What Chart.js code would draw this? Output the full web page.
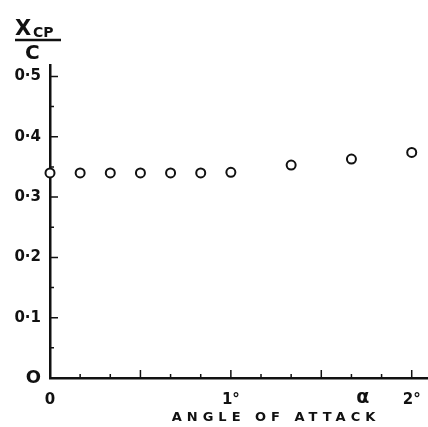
<!DOCTYPE html>
<html>
<head>
<meta charset="utf-8">
<script src="https://cdn.jsdelivr.net/npm/chart.js@4.4.1/dist/chart.umd.min.js"></script>
<style>
  html, body { margin: 0; padding: 0; background: #fff; }
  #wrap { width: 428px; height: 427px; }
</style>
</head>
<body>
<div id="wrap"><canvas id="cpChart" width="428" height="427"></canvas></div>
<script>
// Centre of pressure position against angle of attack (degrees)
const angles = [0, 1/6, 2/6, 3/6, 4/6, 5/6, 1, 4/3, 5/3, 2];
const xcpOverC = [0.340, 0.340, 0.340, 0.340, 0.340, 0.340, 0.341, 0.353, 0.363, 0.374];

// Labelled ticks
const xLabelValues = [0, 1, 2];
const xLabelTexts = ['0', '1°', '2°'];
const yLabelValues = [0, 0.1, 0.2, 0.3, 0.4, 0.5];
const yLabelTexts = ['O', '0·1', '0·2', '0·3', '0·4', '0·5'];

const INK = '#111';
const FONT = 'DejaVu Sans';

function labelFor(values, texts, v) {
    const i = values.findIndex(t => Math.abs(t - v) < 1e-6);
    return i >= 0 ? texts[i] : '';
}

// inward tick marks, axis symbol and titles
const lettering = {
    id: 'lettering',
    afterDraw(chart) {
        const ctx = chart.ctx;
        const x = chart.scales.x, y = chart.scales.y;
        const left = chart.chartArea.left, bottom = chart.chartArea.bottom;
        ctx.save();
        ctx.strokeStyle = INK;
        ctx.lineWidth = 1.5;
        ctx.beginPath();
        y.ticks.forEach(t => {
            const py = y.getPixelForValue(t.value);
            const major = Math.abs(t.value * 10 - Math.round(t.value * 10)) < 1e-6;
            if (t.value === 0) return;
            ctx.moveTo(left, py);
            ctx.lineTo(left + (major ? 8 : 4), py);
        });
        x.ticks.forEach(t => {
            const px = x.getPixelForValue(t.value);
            const major = Math.abs(t.value * 2 - Math.round(t.value * 2)) < 1e-6;
            if (t.value === 0) return;
            ctx.moveTo(px, bottom);
            ctx.lineTo(px, bottom - (major ? 8 : 4));
        });
        ctx.stroke();

        ctx.fillStyle = INK;
        // alpha on the angle axis
        ctx.font = 'bold 19px "' + FONT + '"';
        ctx.textAlign = 'center';
        ctx.textBaseline = 'middle';
        ctx.fillText('α', x.getPixelForValue(1.73), 398);

        // axis title
        ctx.font = 'bold 13px "' + FONT + '"';
        ctx.letterSpacing = '5px';
        ctx.fillText('ANGLE OF ATTACK', 276, 418);
        ctx.letterSpacing = '0px';

        // Xcp / C fraction
        ctx.textAlign = 'left';
        ctx.textBaseline = 'alphabetic';
        ctx.font = 'bold 21px "' + FONT + '"';
        ctx.fillText('X', 15, 35);
        ctx.font = 'bold 14px "' + FONT + '"';
        ctx.fillText('CP', 33, 37);
        ctx.lineWidth = 2.5;
        ctx.beginPath();
        ctx.moveTo(15, 40);
        ctx.lineTo(61, 40);
        ctx.stroke();
        ctx.font = 'bold 20px "' + FONT + '"';
        ctx.fillText('C', 25, 59);
        ctx.restore();
    }
};

new Chart(document.getElementById('cpChart'), {
    type: 'scatter',
    data: {
        datasets: [{
            data: angles.map((a, i) => ({ x: a, y: xcpOverC[i] })),
            pointRadius: 4.5,
            pointHoverRadius: 4.5,
            pointBorderWidth: 2,
            pointBorderColor: INK,
            pointBackgroundColor: '#fff',
            clip: false
        }]
    },
    options: {
        responsive: false,
        animation: false,
        events: [],
        layout: { autoPadding: false, padding: { top: 65, right: 0, left: 0, bottom: 0 } },
        plugins: {
            legend: { display: false },
            tooltip: { enabled: false }
        },
        scales: {
            x: {
                type: 'linear',
                min: 0,
                max: 2.09,
                afterFit(scale) {
                    scale.height = 49;
                    scale.paddingLeft = 0;
                    scale.paddingRight = 0;
                },
                afterBuildTicks(scale) {
                    const t = [];
                    for (let i = 0; i <= 12; i++) t.push({ value: i / 6 });
                    scale.ticks = t;
                },
                grid: { display: false, drawTicks: false },
                border: { display: true, color: INK, width: 2.5 },
                ticks: {
                    padding: 13,
                    color: INK,
                    font: { family: FONT, size: 15, weight: 'bold' },
                    maxRotation: 0,
                    autoSkip: false,
                    callback: v => labelFor(xLabelValues, xLabelTexts, v)
                }
            },
            y: {
                type: 'linear',
                min: 0,
                max: 0.519,
                afterFit(scale) {
                    scale.width = 50;
                    scale.paddingTop = 0;
                    scale.paddingBottom = 0;
                },
                afterBuildTicks(scale) {
                    const t = [];
                    for (let i = 0; i <= 10; i++) t.push({ value: i * 0.05 });
                    scale.ticks = t;
                },
                grid: { display: false, drawTicks: false },
                border: { display: true, color: INK, width: 2.5 },
                ticks: {
                    padding: 9,
                    color: INK,
                    font: ctx => ({ family: FONT, size: ctx.tick && ctx.tick.value === 0 ? 18 : 15, weight: 'bold' }),
                    autoSkip: false,
                    callback: v => labelFor(yLabelValues, yLabelTexts, v)
                }
            }
        }
    },
    plugins: [lettering]
});
</script>
</body>
</html>
